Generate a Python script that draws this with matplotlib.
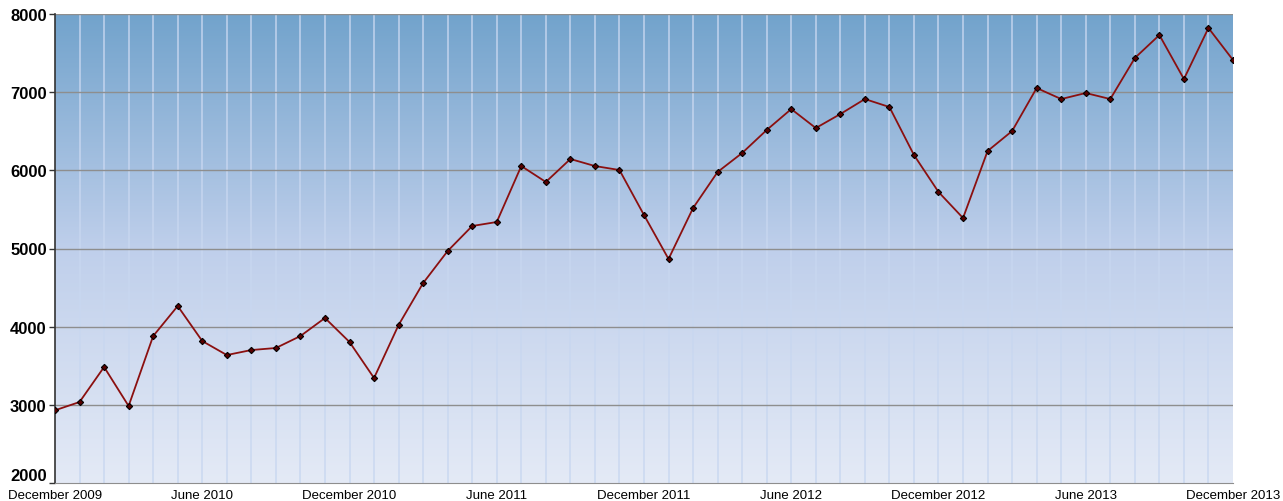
import numpy as np
import matplotlib
matplotlib.use("Agg")
import matplotlib.pyplot as plt
from matplotlib.colors import LinearSegmentedColormap

plt.rcParams["font.family"] = ["Liberation Sans", "DejaVu Sans"]

# monthly values, December 2009 .. December 2013
values = [
    2930, 3036, 3484, 2985, 3880, 4264, 3816, 3637, 3701, 3727, 3880, 4111,
    3804, 3343, 4021, 4558, 4968, 5288, 5339, 6055, 5851, 6145, 6055, 6004,
    5428, 4866, 5518, 5979, 6222, 6516, 6784, 6541, 6720, 6912, 6810, 6196,
    5723, 5390, 6247, 6503, 7053, 6912, 6989, 6912, 7437, 7731, 7168, 7821,
    7411,
]
tick_labels = ["December 2009", "June 2010", "December 2010", "June 2011",
               "December 2011", "June 2012", "December 2012", "June 2013",
               "December 2013"]
y_ticks = [2000, 3000, 4000, 5000, 6000, 7000, 8000]

x = np.arange(len(values))

fig = plt.figure(figsize=(12.83, 5.02), dpi=100)
ax = fig.add_axes([55 / 1283, 18 / 502, 1178 / 1283, 469 / 502])
ax.set_xlim(0, len(values) - 1)
ax.set_ylim(2000, 8000)

# vertical gradient background
cmap = LinearSegmentedColormap.from_list(
    "bg", [(0, "#e4eaf6"), (0.5, "#bfcfeb"), (1, "#72a3cc")])
grad = np.linspace(0, 1, 256).reshape(-1, 1)
ax.imshow(grad, cmap=cmap, aspect="auto", origin="lower",
          extent=(0, len(values) - 1, 2000, 8000), zorder=0)

# month grid
for xi in x[1:-1]:
    ax.axvline(xi, color="#c8d7f0", lw=1.2, alpha=0.85, zorder=1)
for yv in y_ticks[1:]:
    ax.axhline(yv, color="#8e8e8e", lw=1.0, zorder=2)

ax.plot(x, values, color="#8b1010", lw=1.3, zorder=3)
ax.plot(x, values, ls="none", marker="D", ms=3.2, mfc="#5a0000",
        mec="black", mew=0.8, zorder=4)

ax.set_yticks(y_ticks)
ax.set_yticklabels([str(v) for v in y_ticks], fontsize=12, fontweight="bold")
ax.set_xticks(x[::6])
ax.set_xticklabels(tick_labels, fontsize=9.5)
ax.tick_params(axis="x", length=0, pad=4)
ax.tick_params(axis="y", length=4, width=1, color="#333333", pad=2)
# lift the lowest y label slightly so it clears the first date label
ax.get_yticklabels()[0].set_verticalalignment("bottom")

for s in ["top", "right"]:
    ax.spines[s].set_visible(False)
ax.spines["left"].set_color("#333333")
ax.spines["left"].set_linewidth(1.2)
ax.spines["bottom"].set_color("#8e8e8e")

fig.savefig("out.png", dpi=100)
